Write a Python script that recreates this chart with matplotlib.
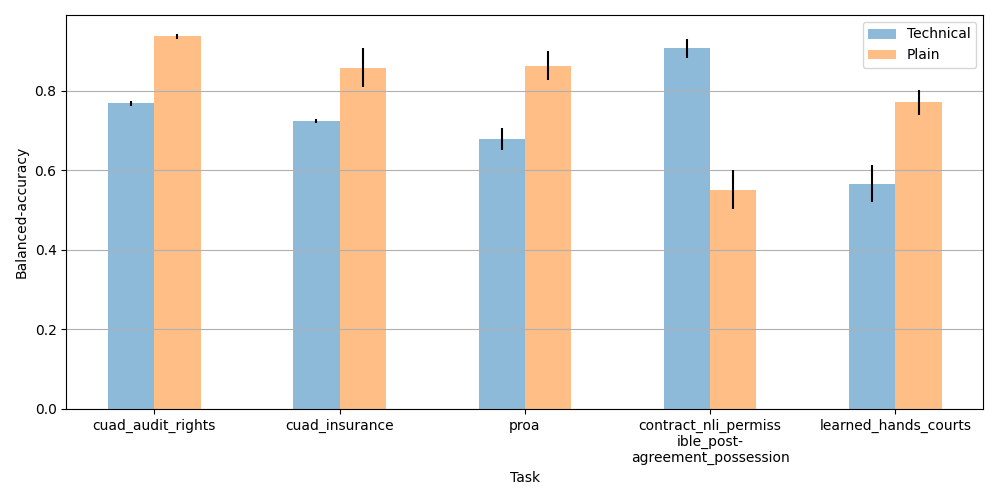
import textwrap
import numpy as np
import matplotlib
matplotlib.use("Agg")
import matplotlib.pyplot as plt

# ── Data ──────────────────────────────────────────────────────────────────────
tasks = ["cuad_audit_rights", "cuad_insurance", "proa",
         "contract_nli_permissible_post-agreement_possession", "learned_hands_courts"]
technical_mean = [0.768, 0.723, 0.679, 0.906, 0.566]
technical_err  = [0.007, 0.005, 0.028, 0.024, 0.046]
plain_mean     = [0.937, 0.858, 0.863, 0.551, 0.771]
plain_err      = [0.006, 0.050, 0.036, 0.049, 0.031]

# ── Plot ──────────────────────────────────────────────────────────────────────
x = np.arange(len(tasks))
width = 0.25

fig, ax = plt.subplots(figsize=(10, 5))
ax.bar(x - width / 2, technical_mean, width, yerr=technical_err,
       color="tab:blue", alpha=0.5, label="Technical", ecolor="black")
ax.bar(x + width / 2, plain_mean, width, yerr=plain_err,
       color="tab:orange", alpha=0.5, label="Plain", ecolor="black")

ax.set_xticks(x)
ax.set_xticklabels([textwrap.fill(t, 20) for t in tasks])
ax.set_xlabel("Task")
ax.set_ylabel("Balanced-accuracy")
ax.yaxis.grid(True)
ax.legend(loc="upper right")

plt.tight_layout()
fig.savefig("out.png", dpi=100)
plt.close(fig)
